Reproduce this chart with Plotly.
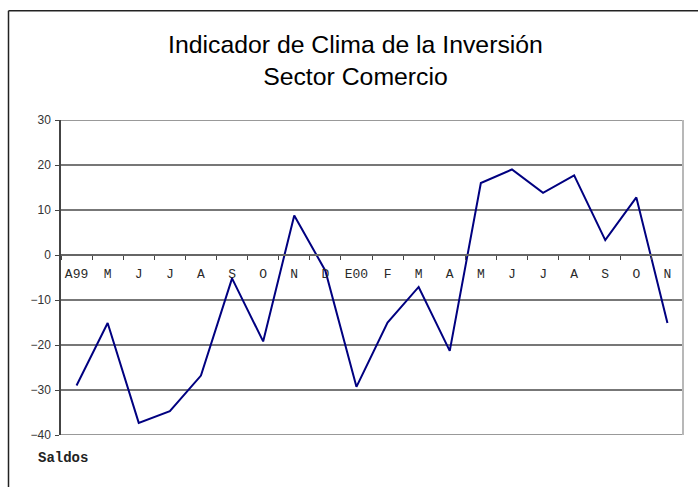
import plotly.graph_objects as go

months = ["A99", "M", "J", "J", "A", "S", "O", "N", "D", "E00",
          "F", "M", "A", "M", "J", "J", "A", "S", "O", "N"]
saldos = [-29.0, -15.1, -37.3, -34.7, -26.8, -5.2, -19.2, 8.8, -3.5, -29.3,
          -15.0, -7.1, -21.3, 16.0, 19.0, 13.8, 17.7, 3.3, 12.8, -15.1]
y_ticks = [30, 20, 10, 0, -10, -20, -30, -40]

x_idx = list(range(len(months)))

W, H = 698, 487
L, R, T, B = 61, 15, 120, 52
pw, ph = W - L - R, H - T - B


def px_x(p):
    return (p - L) / pw


def px_y(p):
    return (H - B - p) / ph


fig = go.Figure()
fig.add_trace(go.Scatter(
    x=x_idx, y=saldos, mode="lines",
    line=dict(color="#000080", width=2),
    hoverinfo="skip", showlegend=False,
))

fig.update_layout(
    width=W, height=H,
    margin=dict(l=L, r=R, t=T, b=B),
    paper_bgcolor="white", plot_bgcolor="white",
    font=dict(family="Liberation Sans, Arial, sans-serif", color="#333333"),
    xaxis=dict(
        range=[-0.5, len(months) - 0.5],
        tickmode="array", tickvals=x_idx, ticktext=months,
        ticks="", showgrid=False, zeroline=False,
        anchor="free", position=4 / 7,
        showline=True, linecolor="#666666", linewidth=1.5,
        tickfont=dict(family="Liberation Mono, Courier New, monospace", size=13, color="#2a2a2a"),
        ticklabelstandoff=7,
        minor=dict(tick0=0.5, dtick=1, ticks="outside", ticklen=4,
                   tickcolor="#444444", tickwidth=1, showgrid=False),
        fixedrange=True,
    ),
    yaxis=dict(
        range=[-40, 30], tickmode="array", tickvals=y_ticks,
        showgrid=True, gridcolor="#777777", gridwidth=1.5,
        zeroline=False,
        showline=True, linecolor="#444444", linewidth=1.5,
        ticks="outside", ticklen=4, tickcolor="#444444",
        ticklabelstandoff=2,
        tickfont=dict(family="Liberation Sans, Arial, sans-serif", size=12, color="#333333"),
        fixedrange=True,
    ),
)

# top and bottom gridlines of the plot area
for yv in (y_ticks[0], y_ticks[-1]):
    fig.add_shape(type="line", xref="paper", yref="y", x0=0, x1=1, y0=yv, y1=yv,
                  line=dict(color="#777777", width=1.5))
# right border of plot area
fig.add_shape(type="line", xref="paper", yref="y", x0=1, x1=1, y0=y_ticks[-1], y1=y_ticks[0],
              line=dict(color="#b8b8b8", width=2))
# outer chart frame
fig.add_shape(type="line", xref="paper", yref="paper",
              x0=px_x(8.5), x1=px_x(8.5), y0=px_y(10.7), y1=px_y(495),
              line=dict(color="#222222", width=1.5))
fig.add_shape(type="line", xref="paper", yref="paper",
              x0=px_x(8.5), x1=px_x(710), y0=px_y(10.7), y1=px_y(10.7),
              line=dict(color="#222222", width=1.5))

fig.add_annotation(
    text="Indicador de Clima de la Inversión<br>Sector Comercio",
    xref="paper", yref="paper", x=px_x(355.5), y=px_y(60),
    xanchor="center", yanchor="middle", showarrow=False,
    font=dict(family="Liberation Sans, Arial, sans-serif", size=24.8, color="#000000"),
)
fig.add_annotation(
    text="<b>Saldos</b>",
    xref="paper", yref="paper", x=px_x(36), y=px_y(458),
    xanchor="left", yanchor="middle", showarrow=False,
    font=dict(family="Liberation Mono, Courier New, monospace", size=14, color="#222222"),
)

fig.write_html("out.html", config={"displayModeBar": False},
               post_script="document.body.style.margin='0';document.body.style.overflow='hidden';")
